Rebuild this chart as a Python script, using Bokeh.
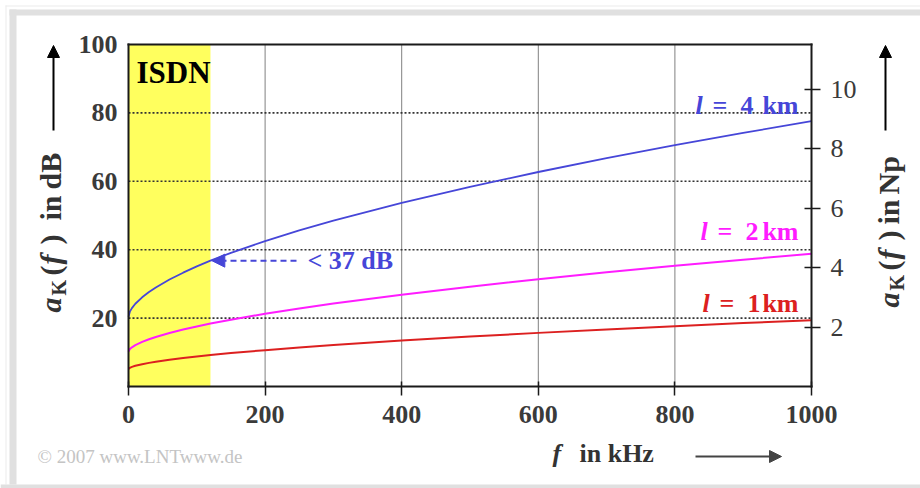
import math
from bokeh.plotting import figure
from bokeh.models import (Range1d, LinearAxis, FixedTicker, Label, Arrow, NormalHead,
                          BoxAnnotation)
from bokeh.embed import file_html
from bokeh.resources import INLINE

# ---------------- data ----------------
F_KHZ = [0, 2, 5, 10, 20, 30, 40, 60, 80, 100, 120, 150, 200, 250, 300,
         400, 500, 600, 700, 800, 900, 1000]
A_1KM = [5.10, 5.47, 5.73, 6.05, 6.52, 6.91, 7.24, 7.82, 8.32, 8.78, 9.20,
         9.77, 10.63, 11.41, 12.13, 13.43, 14.60, 15.68, 16.69, 17.64, 18.54, 19.40]
A_2KM = [10.20, 10.94, 11.46, 12.10, 13.04, 13.82, 14.48, 15.64, 16.64, 17.56, 18.40,
         19.54, 21.26, 22.82, 24.26, 26.86, 29.20, 31.36, 33.38, 35.28, 37.08, 38.80]
A_4KM = [20.40, 21.88, 22.92, 24.20, 26.08, 27.64, 28.96, 31.28, 33.28, 35.12, 36.80,
         39.08, 42.52, 45.64, 48.52, 53.72, 58.40, 62.72, 66.76, 70.56, 74.16, 77.60]
X_TICKS = [0, 200, 400, 600, 800, 1000]
Y_TICKS_DB = [20, 40, 60, 80, 100]
Y_TICKS_NP = [2, 4, 6, 8, 10]
F_MAX = 1000
A_MAX = 100
ISDN_F_MAX = 120          # kHz
ISDN_LIMIT_IDX = 10       # index of 120 kHz in F_KHZ
DB_PER_NP = 8.686
CURVE_LABELS = ["1", "2", "4"]

# ---------------- styling ----------------
SERIF = "Liberation Serif"
BLUE = "#4646d8"
PINK = "#ff1cff"
RED = "#dc2020"
YELLOW = "#ffff5e"
TXT = "#333333"
FRAME = "#1a1a1a"

# page geometry (pixels); the chart box spans FL..FR x FT..FB
W, H = 920, 488
FL, FR, FT, FB = 128, 811, 44, 386
BASE_SHIFT = 0.37   # label anchor sits this fraction of the font size above the baseline


def fx(px):
    return (px - FL) / (FR - FL) * F_MAX


def fy(py):
    return (FB - py) / (FB - FT) * A_MAX


p = figure(width=W, height=H, x_range=Range1d(fx(0), fx(W)), y_range=Range1d(fy(H), fy(0)),
           x_axis_type=None, y_axis_type=None,
           output_backend="svg", toolbar_location=None,
           min_border_left=0, min_border_right=0, min_border_top=0, min_border_bottom=0)
p.background_fill_color = "white"
p.border_fill_color = "white"
p.outline_line_color = None
p.extra_y_ranges = {"np": Range1d(fy(H) / DB_PER_NP, fy(0) / DB_PER_NP)}

# ISDN band
p.quad(left=[0], right=[ISDN_F_MAX], bottom=[0], top=[A_MAX], fill_color=YELLOW,
       line_color=None, level="image")

# grid lines at the tick positions
xg = X_TICKS[1:-1]
p.segment(x0=xg, y0=[0] * len(xg), x1=xg, y1=[A_MAX] * len(xg),
          line_color="#808080", line_width=1, level="underlay")
yg = Y_TICKS_DB[:-1]
p.segment(x0=[0] * len(yg), y0=yg, x1=[F_MAX] * len(yg), y1=yg,
          line_color="#333333", line_width=1.6, line_dash="2 2", level="underlay")

# curves
p.line(F_KHZ, A_1KM, line_color=RED, line_width=2)
p.line(F_KHZ, A_2KM, line_color=PINK, line_width=2)
p.line(F_KHZ, A_4KM, line_color=BLUE, line_width=1.8)


def style_axis(ax, tin, tout, standoff, bold=True):
    ax.axis_line_width = 2
    ax.axis_line_color = FRAME
    ax.axis_line_cap = "square"
    ax.major_tick_in = tin
    ax.major_tick_out = tout
    ax.major_tick_line_width = 1.5
    ax.major_tick_line_color = FRAME if (tin or tout) else None
    ax.minor_tick_line_color = None
    ax.major_label_standoff = standoff
    ax.major_label_text_font = SERIF
    ax.major_label_text_font_size = "26px"
    ax.major_label_text_font_style = "bold" if bold else "normal"
    ax.major_label_text_color = "#3a3a3a"


bottom = LinearAxis(fixed_location=0, bounds=(0, F_MAX), ticker=FixedTicker(ticks=X_TICKS))
style_axis(bottom, 5, 9, 10)
p.add_layout(bottom, "below")

top = LinearAxis(fixed_location=A_MAX, bounds=(0, F_MAX), ticker=FixedTicker(ticks=[]))
style_axis(top, 0, 0, 0)
p.add_layout(top, "above")

left = LinearAxis(fixed_location=0, bounds=(0, A_MAX), ticker=FixedTicker(ticks=Y_TICKS_DB))
style_axis(left, 0, 0, 11)
p.add_layout(left, "left")

right = LinearAxis(y_range_name="np", fixed_location=F_MAX, bounds=(0, A_MAX / DB_PER_NP),
                   ticker=FixedTicker(ticks=Y_TICKS_NP))
style_axis(right, 7, 9, 10, bold=False)
p.add_layout(right, "right")


def box(x0, y0, x1, y1, color):
    p.add_layout(BoxAnnotation(left=fx(x0), right=fx(x1), top=fy(y0), bottom=fy(y1),
                               fill_color=color, fill_alpha=1.0, line_color=None,
                               level="overlay"))


# grey picture border (page pixels)
box(5, 5, 920, 6, "#ececec")
box(5, 5, 6, 484, "#ececec")
box(9, 9, 920, 15, "#e0e0e0")
box(9, 9, 16, 484, "#e0e0e0")
box(0, 484, 920, 488, "#e0e0e0")


def lab(px, py, text, size=26, style="bold", color="black", rotated=False, align="left"):
    """px, py: start of the text on its baseline, in page pixels."""
    shift = BASE_SHIFT * size
    if rotated:
        ax_, ay_, ang = px - shift, py, math.pi / 2
    else:
        ax_, ay_, ang = px, py - shift, 0.0
    p.add_layout(Label(x=fx(ax_), y=fy(ay_), text=text, text_font=SERIF,
                       text_font_size="%dpx" % size, text_font_style=style,
                       text_color=color, text_align=align, text_baseline="alphabetic",
                       angle=ang, angle_units="rad"))


def arrow(x0, y0, x1, y1, color, dash="solid", head=12):
    p.add_layout(Arrow(end=NormalHead(size=head, fill_color=color, line_color=color,
                                      line_width=1),
                       x_start=x0, y_start=y0, x_end=x1, y_end=y1,
                       line_color=color, line_width=2, line_dash=dash))


# ISDN text
lab(136, 83, "ISDN", size=31)

# curve labels
for n, col, base, lx in [(CURVE_LABELS[2], BLUE, 115, 695),
                         (CURVE_LABELS[1], PINK, 241, 700),
                         (CURVE_LABELS[0], RED, 313, 702)]:
    lab(lx, base, "l", style="bold italic", color=col)
    lab(lx + 17, base, "=", color=col)
    lab(lx + 45, base, n, color=col)
    lab(798, base, "km", color=col, align="right")

# ISDN limit arrow and text
arrow(fx(296), A_4KM[ISDN_LIMIT_IDX], F_KHZ[ISDN_LIMIT_IDX] + 2, A_4KM[ISDN_LIMIT_IDX],
      BLUE, dash="6 4", head=13)
lab(307, 270, "< 37 dB", color=BLUE)

# axis arrows
arrow(fx(53), fy(130), fx(53), fy(45), "black")
arrow(fx(885), fy(130), fx(885), fy(45), "black")
arrow(fx(695), fy(456), fx(781), fy(456), "#444444")

# rotated axis labels (baseline x, then start y of each piece)
for bx, parts in [(61, [("a", 312, "bold italic", 30, 0),
                        ("K", 295, "bold", 20, 5),
                        ("(", 275, "bold", 30, 0),
                        ("f", 264, "bold italic", 30, 0),
                        (")", 244, "bold", 30, 0),
                        ("in", 220, "bold", 30, 0),
                        ("dB", 189, "bold", 30, 0)]),
                  (899, [("a", 307, "bold italic", 30, 0),
                         ("K", 290, "bold", 20, 5),
                         ("(", 270, "bold", 30, 0),
                         ("f", 259, "bold italic", 30, 0),
                         (")", 240, "bold", 30, 0),
                         ("in", 224, "bold", 30, 0),
                         ("Np", 194, "bold", 30, 0)])]:
    for txt, py, st, sz, dx in parts:
        lab(bx + dx, py, txt, size=sz, style=st, color=TXT, rotated=True)

# bottom axis label
lab(552, 463, "f", style="bold italic", color=TXT)
lab(579, 463, "in kHz", color=TXT)

# copyright
lab(37, 463, "\u00a9 2007 www.LNTwww.de", size=19, style="normal", color="#c4c4c4")

open("out.html", "w").write(file_html(p, INLINE))
